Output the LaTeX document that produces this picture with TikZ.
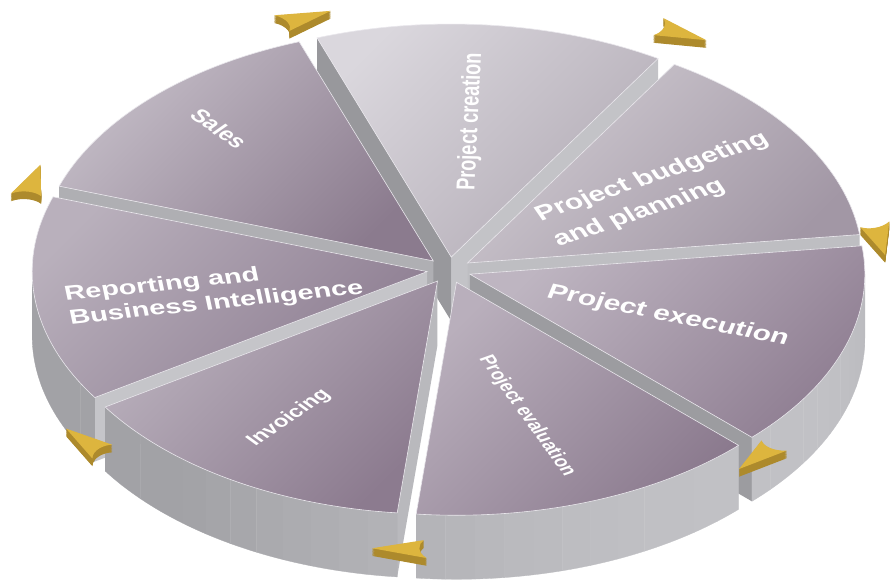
\documentclass[tikz,border=0pt]{standalone}
\usepackage{fontspec}
\setmainfont{Liberation Sans}
\usepackage{xcolor}
\usepackage{tikz}

\definecolor{rimline}{HTML}{E9E7EC}
\definecolor{arrowtop}{HTML}{DDB53E}
\definecolor{arrowside}{HTML}{AD8A2C}
\definecolor{creLight}{HTML}{DAD7DD}
\definecolor{creDark}{HTML}{B3ACB6}
\definecolor{budLight}{HTML}{CEC9D0}
\definecolor{budDark}{HTML}{A297A5}
\definecolor{salLight}{HTML}{C4BDC7}
\definecolor{salDark}{HTML}{8B7B8E}
\definecolor{repLight}{HTML}{B9B0BC}
\definecolor{repDark}{HTML}{8E7E92}
\definecolor{invLight}{HTML}{BAB1BD}
\definecolor{invDark}{HTML}{8C7B8F}
\definecolor{evaLight}{HTML}{B9AFBC}
\definecolor{evaDark}{HTML}{8B7A8E}
\definecolor{exeLight}{HTML}{BEB5C1}
\definecolor{exeDark}{HTML}{8F7E92}

\newcommand{\pieradius}{395}
\newcommand{\piegap}{22}
\newcommand{\piedrop}{108.5}

\tikzset{
  pieplane/.style={cm={1,0,0,0.59,(449pt,-270pt)}},
  slicetop/.style={draw=rimline, line width=0.6pt, shading angle=45},
  lbl/.style={text=white, align=left, inner sep=0pt, yscale=0.7},
}

% grey of a side wall, from the angle of its normal
\newcommand{\wallcolour}[3]{%
  \pgfmathtruncatemacro\wv{#2+#3*max(0,cos(#1-310))}%
  \pgfmathtruncatemacro\wb{\wv+4}%
  \definecolor{wallc}{RGB}{\wv,\wv,\wb}}

% one slice: number, light and dark colour of the top
\newcommand{\drawslice}[3]{%
  \pgfmathsetmacro\angA{7+#1*360/7}%
  \pgfmathsetmacro\angB{\angA+360/7}%
  \pgfmathsetmacro\angM{\angA+180/7}%
  % radial walls
  \pgfmathtruncatemacro\vis{cos(\angA)>0}%
  \ifnum\vis=1
    \wallcolour{\angA-90}{152}{46}%
    \fill[wallc] (\angM:\piegap) -- ++(\angA:\pieradius) -- ++(0,-\piedrop) -- ++(\angA:-\pieradius) -- cycle;
  \fi
  \pgfmathtruncatemacro\vis{cos(\angB)<0}%
  \ifnum\vis=1
    \wallcolour{\angB+90}{152}{46}%
    \fill[wallc] (\angM:\piegap) -- ++(\angB:\pieradius) -- ++(0,-\piedrop) -- ++(\angB:-\pieradius) -- cycle;
  \fi
  % outer rim
  \pgfmathsetmacro\rimA{max(\angA,180)}%
  \pgfmathsetmacro\rimB{min(\angB,360)}%
  \pgfmathtruncatemacro\rimN{(\rimB-\rimA)/4}%
  \ifnum\rimN>0
    \foreach \j in {1,...,\rimN}{%
      \pgfmathsetmacro\segA{\rimA+(\j-1)*(\rimB-\rimA)/\rimN}%
      \pgfmathsetmacro\segB{\rimA+\j*(\rimB-\rimA)/\rimN}%
      \wallcolour{(\segA+\segB)/2-10}{162}{32}%
      \filldraw[wallc, line width=0.3pt] (\angM:\piegap) ++(\segA:\pieradius)
        arc[start angle=\segA, end angle=\segB, radius=\pieradius]
        -- ++(0,-\piedrop)
        arc[start angle=\segB, end angle=\segA, radius=\pieradius] -- cycle;
    }%
  \fi
  % top
  \shade[top color=#2, bottom color=#3, slicetop] (\angM:\piegap) -- ++(\angA:\pieradius)
    arc[start angle=\angA, end angle=\angB, radius=\pieradius] -- cycle;
}

\newcommand{\arrowshape}{(28,4) -- (-28,15) .. controls (-17,6) and (-17,-8) .. (-22,-15) -- cycle}

\begin{document}
\begin{tikzpicture}[x=1pt,y=1pt]
\useasboundingbox (0,0) rectangle (890,-582);
\fill[white] (0,0) rectangle (890,-582);

\begin{scope}[pieplane]
  % back to front
  \drawslice{1}{creLight}{creDark}
  \drawslice{2}{salLight}{salDark}
  \drawslice{0}{budLight}{budDark}
  \drawslice{3}{repLight}{repDark}
  \drawslice{6}{exeLight}{exeDark}
  \drawslice{4}{invLight}{invDark}
  \drawslice{5}{evaLight}{evaDark}

  % arrows round the rim
  \foreach \t/\r in {108.6/450, 60/462, 7/432, -45.7/440, -95.9/473, 218.5/463, 160/441}{
    \foreach \z in {1,...,13}
      \fill[arrowside, shift={(\t:\r)}, yshift=-\z, rotate=\t-90] \arrowshape;
    \fill[arrowtop, shift={(\t:\r)}, rotate=\t-90] \arrowshape;
  }
\end{scope}

\node[lbl, font=\fontsize{26}{30}\selectfont\bfseries, rotate=-45] (sales) at (219,-128.5) {Sales};
\node[lbl, font=\fontsize{26}{30}\selectfont\bfseries, rotate=88] (creation) at (471,-121.5) {Project creation};
\node[lbl, font=\fontsize{30}{41}\selectfont\bfseries, rotate=26] (budgeting) at (661,-190) {Project budgeting\\and planning};
\node[lbl, font=\fontsize{30}{34}\selectfont\bfseries, rotate=-16] (execution) at (668,-316) {Project execution};
\node[lbl, font=\fontsize{22}{26}\selectfont\bfseries, rotate=-63] (evaluation) at (527,-416) {Project evaluation};
\node[lbl, font=\fontsize{24}{28}\selectfont\bfseries, rotate=44] (invoicing) at (289,-418) {Invoicing};
\node[lbl, font=\fontsize{29}{34}\selectfont\bfseries, rotate=8.5] (reporting) at (214,-292) {Reporting and\\Business Intelligence};
\end{tikzpicture}
\end{document}
